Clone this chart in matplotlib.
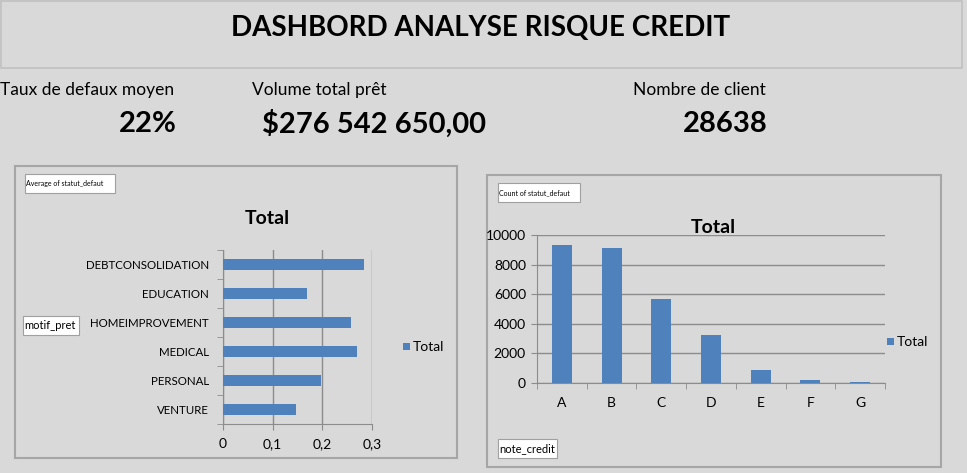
import matplotlib
matplotlib.use("Agg")
import matplotlib.pyplot as plt
from matplotlib.patches import Rectangle
from matplotlib.ticker import FuncFormatter

plt.rcParams['font.family'] = ['Lato', 'DejaVu Sans']

W, H = 967, 473
BG = '#d9d9d9'
BLUE = '#4f81bd'
GRID = '#8c8c8c'

title = "DASHBORD ANALYSE RISQUE CREDIT"
kpi_labels = ["Taux de defaux moyen", "Volume total prêt", "Nombre de client"]
kpi_values = ["22%", "$276 542 650,00", "28638"]

motifs = ["DEBTCONSOLIDATION", "EDUCATION", "HOMEIMPROVEMENT",
          "MEDICAL", "PERSONAL", "VENTURE"]
taux_defaut = [0.284, 0.170, 0.257, 0.269, 0.197, 0.146]

notes = ["A", "B", "C", "D", "E", "F", "G"]
nb_defaut = [9350, 9145, 5700, 3265, 880, 225, 55]

fig = plt.figure(figsize=(W / 100, H / 100), dpi=100, facecolor=BG)

# background layer in pixel coordinates
bg = fig.add_axes([0, 0, 1, 1])
bg.set_xlim(0, W)
bg.set_ylim(H, 0)
bg.axis('off')
bg.set_facecolor(BG)


def box(x0, y0, x1, y1, fc=BG, ec='#b0b0b0', lw=1.2):
    bg.add_patch(Rectangle((x0, y0), x1 - x0, y1 - y0, fc=fc, ec=ec, lw=lw))


def label_box(x0, y0, x1, y1, txt, size):
    box(x0, y0, x1, y1, fc='white', ec='#a0a0a0', lw=0.8)
    bg.text(x0 + 1, (y0 + y1) / 2, txt, fontsize=size, va='center', ha='left')


# title banner
box(1, 1, 962, 68, ec='#c0c0c0')
bg.text(481, 28, title, fontsize=20, fontweight='bold', ha='center', va='center')

# KPIs
for x, s in zip([0, 252, 633], kpi_labels):
    bg.text(x, 90, s, fontsize=12.5, ha='left', va='center')
for x, s in zip([177, 262, 768], kpi_values):
    ha = 'left' if s.startswith('$') else 'right'
    bg.text(x, 124, s, fontsize=21, fontweight='bold', ha=ha, va='center')

# chart panels
box(15, 166, 457, 458, ec='#a6a6a6', lw=1.5)
box(487, 175, 941, 467, ec='#a6a6a6', lw=1.5)
label_box(25, 174, 115, 193, "Average of statut_defaut", 5)
label_box(23, 316, 79, 335, "motif_pret", 8)
label_box(498, 183, 580, 202, "Count of statut_defaut", 5)
label_box(498, 439, 557, 458, "note_credit", 8)


def px_axes(x0, y0, x1, y1):
    return fig.add_axes([x0 / W, 1 - y1 / H, (x1 - x0) / W, (y1 - y0) / H])


# left chart: average default rate per loan purpose
ax1 = px_axes(223, 250, 372, 424)
ax1.set_facecolor('none')
ypos = list(range(len(motifs)))
ax1.barh(ypos, taux_defaut, height=0.38, color=BLUE, zorder=3)
ax1.set_xlim(0, 0.3)
ax1.set_ylim(len(motifs) - 0.5, -0.5)
ax1.set_yticks(ypos)
ax1.set_yticklabels(motifs, fontsize=8.3)
ax1.set_yticks([i - 0.5 for i in range(len(motifs) + 1)], minor=True)
ax1.tick_params(axis='y', which='major', length=0, pad=10)
ax1.tick_params(axis='y', which='minor', length=4, color=GRID)
ax1.set_xticks([0, 0.1, 0.2, 0.3])
ax1.xaxis.set_major_formatter(FuncFormatter(lambda v, p: f"{v:g}".replace('.', ',')))
ax1.tick_params(axis='x', length=4, color=GRID, labelsize=10, pad=6)
ax1.grid(axis='x', color=GRID, lw=1, zorder=0)
for s in ['top', 'right']:
    ax1.spines[s].set_visible(False)
for s in ['left', 'bottom']:
    ax1.spines[s].set_color(GRID)
bg.text(267, 218, "Total", fontsize=14, fontweight='bold', ha='center', va='center')
bg.add_patch(Rectangle((403, 343), 7, 7, fc=BLUE, ec='none'))
bg.text(413, 347, "Total", fontsize=10, ha='left', va='center')

# right chart: count per credit grade
ax2 = px_axes(537, 235, 885, 383)
ax2.set_facecolor('none')
xpos = list(range(len(notes)))
ax2.bar(xpos, nb_defaut, width=0.4, color=BLUE, zorder=3)
ax2.set_ylim(0, 10000)
ax2.set_xlim(-0.5, len(notes) - 0.5)
ax2.set_yticks([0, 2000, 4000, 6000, 8000, 10000])
ax2.tick_params(axis='y', length=4, color=GRID, labelsize=10, pad=4)
ax2.set_xticks(xpos)
ax2.set_xticklabels(notes, fontsize=10)
ax2.set_xticks([i - 0.5 for i in range(len(notes) + 1)], minor=True)
ax2.tick_params(axis='x', which='major', length=0, pad=10)
ax2.tick_params(axis='x', which='minor', length=4, color=GRID)
ax2.grid(axis='y', color=GRID, lw=1, zorder=0)
for s in ['top', 'right']:
    ax2.spines[s].set_visible(False)
for s in ['left', 'bottom']:
    ax2.spines[s].set_color(GRID)
bg.text(713, 227, "Total", fontsize=14, fontweight='bold', ha='center', va='center',
        zorder=5)
bg.add_patch(Rectangle((887, 338), 7, 7, fc=BLUE, ec='none'))
bg.text(897, 342, "Total", fontsize=10, ha='left', va='center')

fig.savefig("out.png", dpi=100, facecolor=BG)
